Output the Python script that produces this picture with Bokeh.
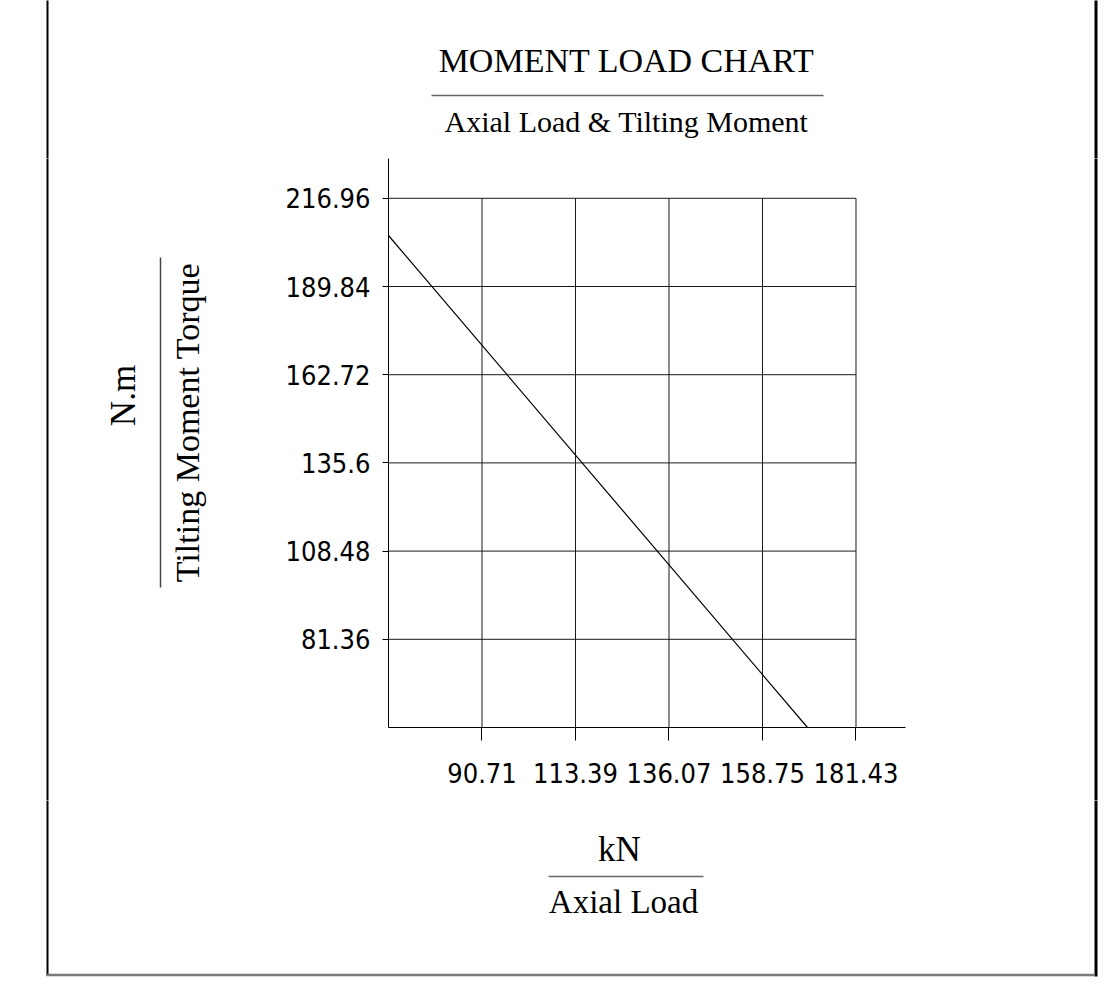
import math
from bokeh.plotting import figure
from bokeh.layouts import column, row
from bokeh.models import Range1d, FixedTicker, CustomJSTickFormatter
from bokeh.embed import file_html
from bokeh.resources import INLINE
from bokeh.core.properties import value

# ---- data ----
axial_ticks = [90.71, 113.39, 136.07, 158.75, 181.43]
moment_ticks = [81.36, 108.48, 135.6, 162.72, 189.84, 216.96]
axial_load = [68.03, 169.67]
tilting_moment = [205.52, 54.24]

title_text = "MOMENT LOAD CHART"
subtitle_text = "Axial Load & Tilting Moment"
x_unit, x_name = "kN", "Axial Load"
y_unit, y_name = "N.m", "Tilting Moment Torque"

# ---- page layout (pixels) ----
PAGE_W, PAGE_H = 1100, 980
TOP_H = 158          # band above the chart frame
MID_H = 642          # chart frame + x tick labels
L_W = 230            # y-title band
M_W = 770            # chart figure
FRAME_W, FRAME_H = 517, 569
X0, X1 = 68.03, 193.44
Y0, Y1 = 54.24, 229.2

SERIF = value("Liberation Serif")
LEFT_X, RIGHT_X, BOTTOM_Y = 47, 1095.5, 974.5
EXT = 6  # overdraw past band edges so the page frame is continuous


def deco(x0, x1, y0, y1):
    f = figure(width=int(x1 - x0), height=int(y1 - y0), x_range=Range1d(x0, x1), y_range=Range1d(y1, y0),
               x_axis_type=None, y_axis_type=None, min_border=0, title=None, frame_align=False,
               output_backend="svg", toolbar_location=None)
    f.outline_line_color = None
    f.xgrid.visible = False
    f.ygrid.visible = False
    return f


def txt(f, t, x, y, size, angle=0.0):
    f.text(x=[x], y=[y], text=[t], text_font=SERIF, text_font_size=value(size), text_color="black",
           text_align="center", text_baseline="middle", angle=angle)


def seg(f, x0, y0, x1, y1, color="black", width=1.0):
    f.segment(x0=[x0], y0=[y0], x1=[x1], y1=[y1], line_color=color, line_width=width)


# ---- top band: title ----
T = deco(0, PAGE_W, 0, TOP_H)
txt(T, title_text, 626, 60, "34px")
seg(T, 431, 95, 823, 95, "#666666", 1.5)
txt(T, subtitle_text, 626, 121, "30px")
seg(T, LEFT_X, -EXT, LEFT_X, TOP_H + EXT, "black", 2)
seg(T, RIGHT_X, -EXT, RIGHT_X, TOP_H + EXT, "black", 3)

# ---- left band: y title ----
L = deco(0, L_W, TOP_H, TOP_H + MID_H)
txt(L, y_unit, 123, 395, "35px", math.pi / 2)
seg(L, 160, 257, 160, 587, "#444444", 1.5)
txt(L, y_name, 187, 422, "34px", math.pi / 2)
seg(L, LEFT_X, TOP_H - EXT, LEFT_X, TOP_H + MID_H + EXT, "black", 2)

# ---- main chart ----
M = figure(width=M_W, height=MID_H, x_range=Range1d(X0, X1), y_range=Range1d(Y0, Y1), title=None,
           output_backend="svg", toolbar_location=None, frame_align=False,
           min_border_left=388 - L_W, min_border_top=0,
           min_border_right=M_W - (388 - L_W) - FRAME_W, min_border_bottom=MID_H - FRAME_H)
M.outline_line_color = None
M.xgrid.visible = False
M.ygrid.visible = False

fmt = CustomJSTickFormatter(code="return tick.toString()")
for ax, ticks, out, stand in ((M.xaxis[0], axial_ticks, 13, 22), (M.yaxis[0], moment_ticks, 6, 12)):
    ax.ticker = FixedTicker(ticks=ticks)
    ax.formatter = fmt
    ax.major_tick_out = out
    ax.major_tick_in = 0
    ax.minor_tick_line_color = None
    ax.major_label_standoff = stand
    ax.axis_line_color = "black"
    ax.major_tick_line_color = "black"
    ax.major_label_text_font = "DejaVu Sans Condensed"
    ax.major_label_text_font_size = "27px"
    ax.major_label_text_color = "black"

top = max(moment_ticks)
right = max(axial_ticks)
M.segment(x0=axial_ticks, y0=[Y0] * len(axial_ticks), x1=axial_ticks, y1=[top] * len(axial_ticks),
          line_color="#1a1a1a", line_width=1)
M.segment(x0=[X0] * len(moment_ticks), y0=moment_ticks, x1=[right] * len(moment_ticks), y1=moment_ticks,
          line_color="#1a1a1a", line_width=1)
M.line(axial_load, tilting_moment, line_color="black", line_width=1.2)

# ---- right band: page frame ----
R = deco(L_W + M_W, PAGE_W, TOP_H, TOP_H + MID_H)
seg(R, RIGHT_X, TOP_H - EXT, RIGHT_X, TOP_H + MID_H + EXT, "black", 3)

# ---- bottom band: x title ----
B = deco(0, PAGE_W, TOP_H + MID_H, PAGE_H)
txt(B, x_unit, 619, 849, "35px")
seg(B, 548, 876, 703, 876, "#666666", 1.5)
txt(B, x_name, 623, 901, "33px")
seg(B, LEFT_X, TOP_H + MID_H - EXT, LEFT_X, BOTTOM_Y + 1, "black", 2)
seg(B, RIGHT_X, TOP_H + MID_H - EXT, RIGHT_X, BOTTOM_Y + 1.5, "black", 3)
seg(B, LEFT_X - 1, BOTTOM_Y, RIGHT_X - 1.5, BOTTOM_Y, "#7a7a7a", 2.5)

layout = column(T, row(L, M, R), B)
open("out.html", "w").write(file_html(layout, INLINE))
